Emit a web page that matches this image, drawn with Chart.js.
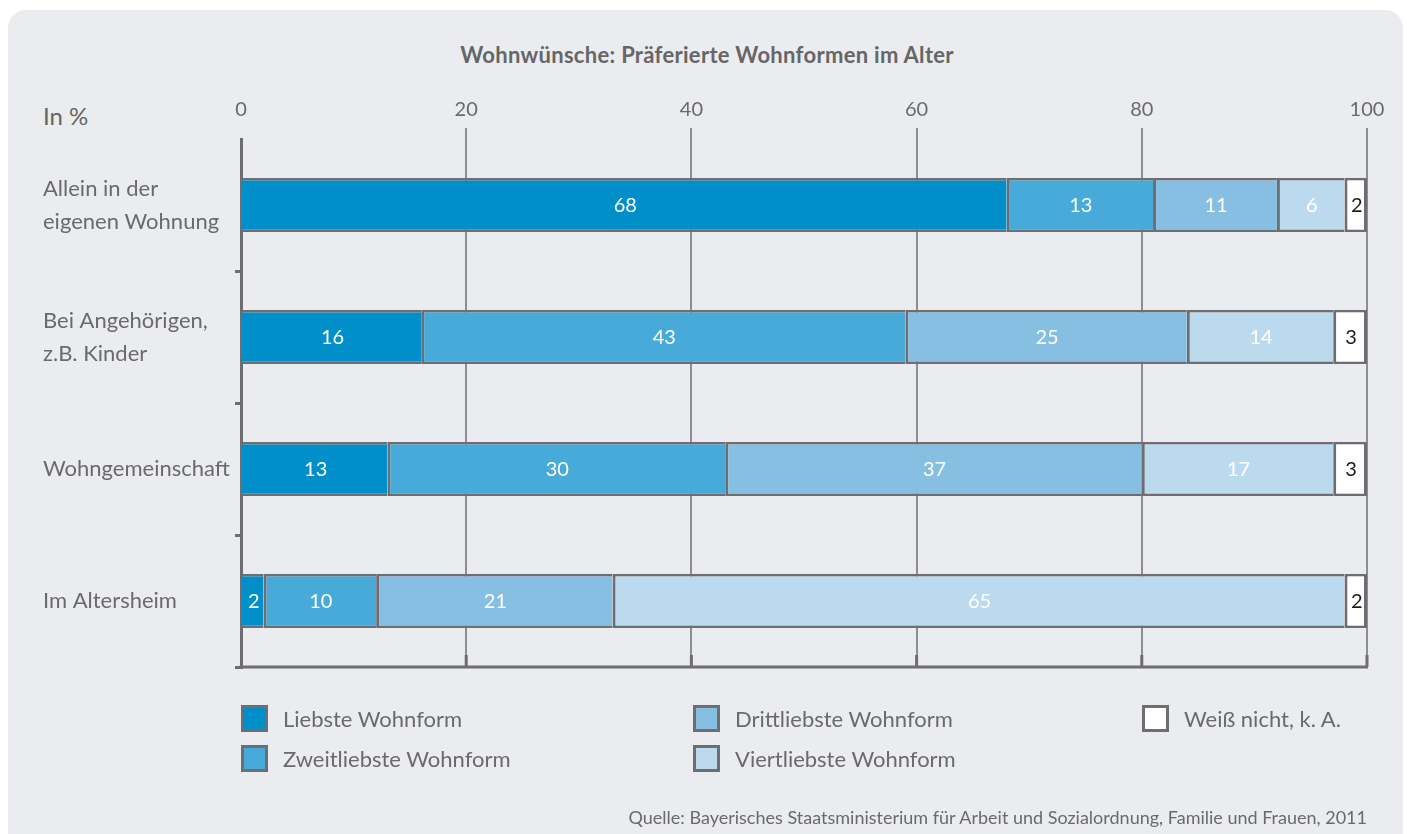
<!DOCTYPE html>
<html lang="de">
<head>
<meta charset="utf-8">
<title>Wohnwünsche: Präferierte Wohnformen im Alter</title>
<script src="https://cdn.jsdelivr.net/npm/chart.js@4/dist/chart.umd.min.js"></script>
<style>
  html, body { margin: 0; padding: 0; background: #ffffff; }
  body { width: 1407px; height: 834px; position: relative; overflow: hidden; font-family: Lato, "Open Sans", sans-serif; color: #6a6a6a; }
  .karte { position: absolute; left: 8px; top: 10px; width: 1395px; height: 840px; background: #ebecef; border-radius: 18px; }
  .titel { position: absolute; left: 0; width: 1414px; top: 41px; text-align: center; font-size: 22px; font-weight: 700; letter-spacing: 0.3px; color: #666; }
  .einheit { position: absolute; left: 43px; top: 101px; font-size: 24px; color: #666; }
  #chartBox { position: absolute; left: 0; top: 0; width: 1407px; height: 834px; }
  .legende { position: absolute; top: 698px; font-size: 22px; color: #6a6a6a; }
  .legende div { height: 40px; display: flex; align-items: center; }
  .legende span.box { width: 21px; height: 21px; border: 3px solid #6e6e72; margin-right: 15px; display: inline-block; }
  .quelle { position: absolute; right: 40px; top: 806px; font-size: 18px; color: #6a6a6a; }
</style>
</head>
<body>
<div class="karte"></div>
<div class="titel">Wohnwünsche: Präferierte Wohnformen im Alter</div>
<div class="einheit">In %</div>
<div id="chartBox"><canvas id="wohnChart" width="1407" height="834"></canvas></div>
<div class="legende" style="left:241px" id="leg1"></div>
<div class="legende" style="left:693px" id="leg2"></div>
<div class="legende" style="left:1142px" id="leg3"></div>
<div class="quelle">Quelle: Bayerisches Staatsministerium für Arbeit und Sozialordnung, Familie und Frauen, 2011</div>

<script>
/* Daten */
const kategorien = [
    ['Allein in der', 'eigenen Wohnung'],
    ['Bei Angehörigen,', 'z.B. Kinder'],
    'Wohngemeinschaft',
    'Im Altersheim'
];
const reihenNamen = ['Liebste Wohnform', 'Zweitliebste Wohnform', 'Drittliebste Wohnform', 'Viertliebste Wohnform', 'Weiß nicht, k. A.'];

const liebste      = [68, 16, 13, 2];
const zweitliebste = [13, 43, 30, 10];
const drittliebste = [11, 25, 37, 21];
const viertliebste = [6, 13, 17, 65];   // Balkenlänge wie gezeichnet
const weissNicht   = [2, 3, 3, 2];

// Beschriftung wie im Original (Zeile 2 ist mit 14 beschriftet)
const viertTexte   = ['6', '14', '17', '65'];

const achsenTicks  = [0, 20, 40, 60, 80, 100];

const farben = ['#008fc8', '#47aad8', '#87bfe2', '#bcdaee', '#ffffff'];
const textFarben = ['#ffffff', '#ffffff', '#ffffff', '#ffffff', '#1a1a1a'];
const randFarbe = '#6e6e72';
const gitterFarbe = '#8e8e92';
const schrift = 'Lato, "Open Sans", sans-serif';

function randBreite(i) {
    if (i === 0) return { top: 2.5, bottom: 2.5, left: 0, right: 0 };
    if (i === 4) return { top: 2.5, bottom: 2.5, left: 3, right: 3 };
    return { top: 2.5, bottom: 2.5, left: 3, right: 0 };
}

const reihen = [liebste, zweitliebste, drittliebste, viertliebste, weissNicht];
const datasets = reihen.map((werte, i) => ({
    label: reihenNamen[i],
    data: werte,
    backgroundColor: farben[i],
    borderColor: randFarbe,
    borderWidth: randBreite(i),
    borderSkipped: false,
    barPercentage: 0.41,
    categoryPercentage: 1.0
}));

/* Werte in die Balken schreiben */
const wertePlugin = {
    id: 'wertePlugin',
    afterDatasetsDraw(chart) {
        const ctx = chart.ctx;
        ctx.save();
        ctx.font = '20px ' + schrift;
        ctx.textAlign = 'center';
        ctx.textBaseline = 'middle';
        chart.data.datasets.forEach((ds, i) => {
            const meta = chart.getDatasetMeta(i);
            meta.data.forEach((bar, j) => {
                const text = i === 3 ? viertTexte[j] : String(ds.data[j]);
                const mitte = (bar.x + bar.base) / 2;
                ctx.fillStyle = textFarben[i];
                ctx.fillText(text, mitte + 1, bar.y + 1);
            });
        });
        ctx.restore();
    }
};

/* untere Achsenlinie mit kleinen Strichen */
const rahmenPlugin = {
    id: 'rahmenPlugin',
    afterDraw(chart) {
        const ctx = chart.ctx;
        const area = chart.chartArea;
        const x = chart.scales.x;
        ctx.save();
        ctx.strokeStyle = randFarbe;
        ctx.lineWidth = 3;
        ctx.beginPath();
        ctx.moveTo(area.left - 1.5, area.bottom);
        ctx.lineTo(area.right + 1, area.bottom);
        ctx.stroke();
        achsenTicks.slice(1).forEach(t => {
            const px = x.getPixelForValue(t);
            ctx.beginPath();
            ctx.moveTo(px, area.bottom - 12);
            ctx.lineTo(px, area.bottom);
            ctx.stroke();
        });
        ctx.restore();
    }
};

const chart = new Chart(document.getElementById('wohnChart'), {
    type: 'bar',
    data: { labels: kategorien, datasets: datasets },
    options: {
        indexAxis: 'y',
        responsive: false,
        animation: false,
        events: [],
        layout: { padding: { left: 43, right: 40, top: 80, bottom: 167 } },
        plugins: { legend: { display: false }, tooltip: { enabled: false } },
        scales: {
            x: {
                position: 'top',
                stacked: true,
                min: 0,
                max: 100,
                afterBuildTicks(scale) { scale.ticks = achsenTicks.map(v => ({ value: v })); },
                afterFit(scale) { scale.height = 59; },
                ticks: { color: '#6a6a6a', font: { family: schrift, size: 20 }, padding: 6 },
                grid: {
                    color: gitterFarbe,
                    lineWidth: 2,
                    drawTicks: true,
                    tickLength: 11,
                    tickColor: c => c.index === 0 ? 'rgba(0,0,0,0)' : gitterFarbe
                },
                border: { display: false }
            },
            y: {
                stacked: true,
                afterFit(scale) { scale.width = 198; },
                ticks: {
                    crossAlign: 'far',
                    color: '#6a6a6a',
                    font: { family: schrift, size: 22, lineHeight: 1.5 }
                },
                grid: {
                    offset: true,
                    drawOnChartArea: false,
                    drawTicks: true,
                    tickLength: 6,
                    lineWidth: 3,
                    tickColor: c => (c.index === 0 ? 'rgba(0,0,0,0)' : randFarbe)
                },
                border: { display: true, color: randFarbe, width: 3 }
            }
        }
    },
    plugins: [wertePlugin, rahmenPlugin]
});

/* Legende aus den Datensätzen */
const spalten = [[0, 1], [2, 3], [4]];
spalten.forEach((idx, s) => {
    const box = document.getElementById('leg' + (s + 1));
    idx.forEach(i => {
        const ds = chart.data.datasets[i];
        const zeile = document.createElement('div');
        const q = document.createElement('span');
        q.className = 'box';
        q.style.background = ds.backgroundColor;
        zeile.appendChild(q);
        zeile.appendChild(document.createTextNode(ds.label));
        box.appendChild(zeile);
    });
});
</script>
</body>
</html>
